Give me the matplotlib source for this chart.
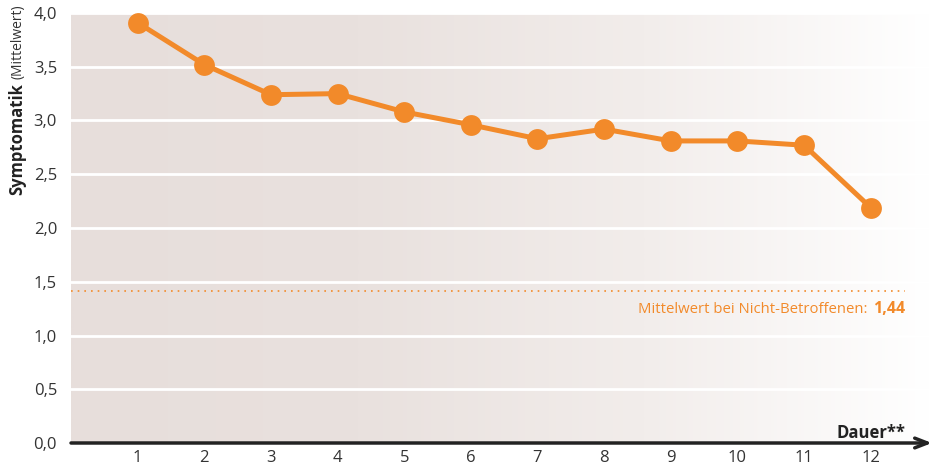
import numpy as np
import matplotlib.pyplot as plt
from matplotlib.colors import LinearSegmentedColormap

# Daten
dauer = [1, 2, 3, 4, 5, 6, 7, 8, 9, 10, 11, 12]
symptomatik = [3.91, 3.52, 3.24, 3.25, 3.08, 2.96, 2.83, 2.92, 2.81, 2.81, 2.77, 2.19]
y_ticks = [0.0, 0.5, 1.0, 1.5, 2.0, 2.5, 3.0, 3.5, 4.0]
y_tick_labels = ["0,0", "0,5", "1,0", "1,5", "2,0", "2,5", "3,0", "3,5", "4,0"]
ref_line = 1.41
ref_label = "Mittelwert bei Nicht-Betroffenen: "
ref_value = "1,44"

orange = "#F28a2a"
txt = "#333333"
plt.rcParams['font.family'] = ['Open Sans', 'DejaVu Sans']

fig = plt.figure(figsize=(9.32, 4.69), dpi=100)
ax = fig.add_axes([71/932, 1 - 443/469, 1 - 71/932, (443 - 13)/469])
xmax = 12.92
ax.set_xlim(0, xmax)
ax.set_ylim(0, 4.0)

# Hintergrund mit Verlauf nach rechts
cmap = LinearSegmentedColormap.from_list("bg", ["#E7DEDB", "#E9E1DE", "#F2EDEB", "#FFFFFF"])
grad = np.linspace(0, 1, 512).reshape(1, -1)
ax.imshow(grad, extent=[0, xmax, 0, 4.0], aspect='auto', cmap=cmap, zorder=0)

for yt in y_ticks[1:]:
    ax.axhline(yt, color='white', lw=2, zorder=1)

ax.plot([0, 12.52], [ref_line, ref_line], color=orange, lw=1.2, ls=(0, (1, 3)), zorder=2)

ax.plot(dauer, symptomatik, color=orange, lw=3.6, marker='o', markersize=15,
        markeredgewidth=0, zorder=3)

for s in ax.spines.values():
    s.set_visible(False)
ax.annotate('', xy=(1.0, 0), xytext=(0, 0), xycoords='axes fraction',
            arrowprops=dict(arrowstyle='->,head_length=0.9,head_width=0.35',
                            color='#222222', lw=2.5, shrinkA=0, shrinkB=0), zorder=4)

ax.set_xticks(dauer)
ax.set_xticklabels([str(d) for d in dauer])
ax.set_yticks(y_ticks)
ax.set_yticklabels(y_tick_labels)
ax.tick_params(length=0, labelsize=12, colors=txt, pad=10)
ax.tick_params(axis='x', pad=5)

ax.text(12.52, 0.01, "Dauer**", ha='right', va='bottom', fontsize=12,
        fontweight='bold', color='#222222')

# Beschriftung Referenzlinie
t_val = ax.text(12.52, 1.245, ref_value, ha='right', va='center', fontsize=11.5,
                fontweight='bold', color=orange)
fig.canvas.draw()
bb = t_val.get_window_extent()
x0 = ax.transData.inverted().transform((bb.x0 - 2, 0))[0]
ax.text(x0, 1.245, ref_label, ha='right', va='center', fontsize=10.7, color=orange)

# y-Achsentitel
t_bold = fig.text(17/932, 1 - 195/469, "Symptomatik", rotation=90, ha='center', va='bottom',
                  fontsize=12, fontweight='bold', color='#222222')
fig.canvas.draw()
bb = t_bold.get_window_extent()
fig.text(18/932, (bb.y1 + 4) / fig.bbox.height, "(Mittelwert)", rotation=90,
         ha='center', va='bottom', fontsize=10, color=txt)

fig.savefig("out.png", dpi=100)
